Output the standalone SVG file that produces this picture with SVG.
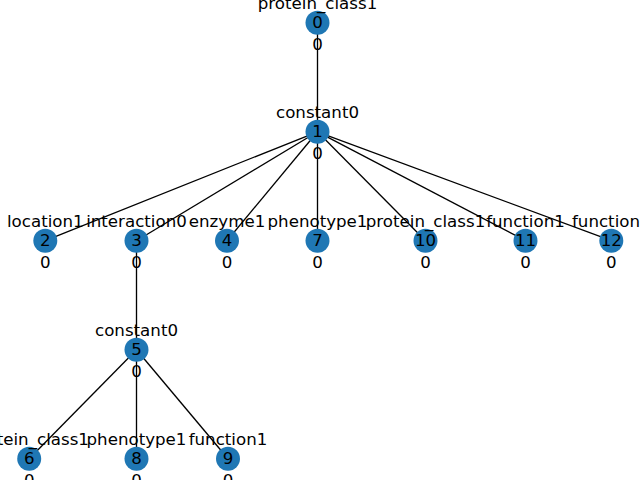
<svg xmlns="http://www.w3.org/2000/svg" width="640" height="480" viewBox="0 0 640 480">
  <style>
    .edge { stroke: #000; stroke-width: 1.33; fill: none; }
    .node circle { fill: #1f77b4; }
    text { font-family: "DejaVu Sans", sans-serif; font-size: 16.67px; fill: #000; text-anchor: middle; }
  </style>
  <rect width="640" height="480" fill="#fff"/>
  <g id="edges">
    <line class="edge" x1="317.5" y1="22.8" x2="317.5" y2="131.8"/>
    <line class="edge" x1="317.5" y1="131.8" x2="45.3" y2="240.7"/>
    <line class="edge" x1="317.5" y1="131.8" x2="136.5" y2="240.7"/>
    <line class="edge" x1="317.5" y1="131.8" x2="227" y2="240.7"/>
    <line class="edge" x1="317.5" y1="131.8" x2="317.5" y2="240.7"/>
    <line class="edge" x1="317.5" y1="131.8" x2="425.5" y2="240.7"/>
    <line class="edge" x1="317.5" y1="131.8" x2="525.5" y2="240.7"/>
    <line class="edge" x1="317.5" y1="131.8" x2="611.3" y2="240.7"/>
    <line class="edge" x1="136.5" y1="240.7" x2="136.5" y2="349.7"/>
    <line class="edge" x1="136.5" y1="349.7" x2="29.2" y2="458.7"/>
    <line class="edge" x1="136.5" y1="349.7" x2="136.5" y2="458.7"/>
    <line class="edge" x1="136.5" y1="349.7" x2="228" y2="458.7"/>
  </g>
  <g id="node0" class="node" transform="translate(317.5,22.8)">
    <circle r="12"/><text y="-14">protein_class1</text><text y="5">0</text><text y="27">0</text>
  </g>
  <g id="node1" class="node" transform="translate(317.5,131.8)">
    <circle r="12"/><text y="-14">constant0</text><text y="5">1</text><text y="27">0</text>
  </g>
  <g id="node2" class="node" transform="translate(45.3,240.7)">
    <circle r="12"/><text y="-14">location1</text><text y="5">2</text><text y="27">0</text>
  </g>
  <g id="node3" class="node" transform="translate(136.5,240.7)">
    <circle r="12"/><text y="-14">interaction0</text><text y="5">3</text><text y="27">0</text>
  </g>
  <g id="node4" class="node" transform="translate(227,240.7)">
    <circle r="12"/><text y="-14">enzyme1</text><text y="5">4</text><text y="27">0</text>
  </g>
  <g id="node7" class="node" transform="translate(317.5,240.7)">
    <circle r="12"/><text y="-14">phenotype1</text><text y="5">7</text><text y="27">0</text>
  </g>
  <g id="node10" class="node" transform="translate(425.5,240.7)">
    <circle r="12"/><text y="-14">protein_class1</text><text y="5">10</text><text y="27">0</text>
  </g>
  <g id="node11" class="node" transform="translate(525.5,240.7)">
    <circle r="12"/><text y="-14">function1</text><text y="5">11</text><text y="27">0</text>
  </g>
  <g id="node12" class="node" transform="translate(611.3,240.7)">
    <circle r="12"/><text y="-14">function1</text><text y="5">12</text><text y="27">0</text>
  </g>
  <g id="node5" class="node" transform="translate(136.5,349.7)">
    <circle r="12"/><text y="-14">constant0</text><text y="5">5</text><text y="27">0</text>
  </g>
  <g id="node6" class="node" transform="translate(29.2,458.7)">
    <circle r="12"/><text y="-14">protein_class1</text><text y="5">6</text><text y="27">0</text>
  </g>
  <g id="node8" class="node" transform="translate(136.5,458.7)">
    <circle r="12"/><text y="-14">phenotype1</text><text y="5">8</text><text y="27">0</text>
  </g>
  <g id="node9" class="node" transform="translate(228,458.7)">
    <circle r="12"/><text y="-14">function1</text><text y="5">9</text><text y="27">0</text>
  </g>
</svg>
